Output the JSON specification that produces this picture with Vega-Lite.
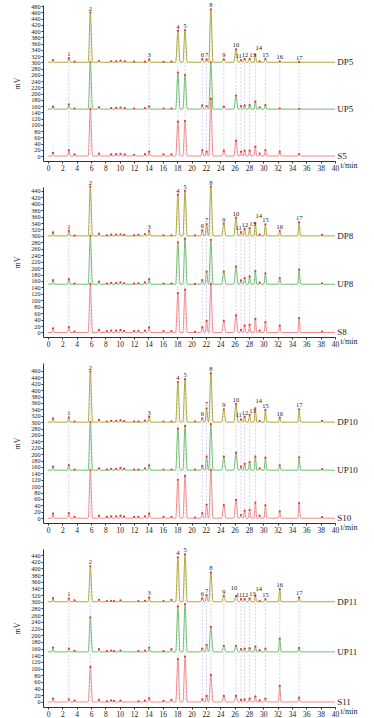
{
"$schema":"https://vega.github.io/schema/vega-lite/v6.json",
"autosize":{"type":"pad"},
"padding":{"left":13,"top":2,"right":2,"bottom":2},
"spacing":26,
"bounds":"flush",
"config":{"view":{"stroke":null},"axis":{"labelFont":"Liberation Serif","titleFont":"Liberation Serif","labelFontSize":7,"titleFontSize":8,"grid":false,"domainColor":"#333","tickColor":"#333","labelColor":"#222","titleColor":"#222","titleFontWeight":"normal","labelOverlap":false},"axisY":{"labelFontSize":6.2,"tickSize":2,"labelPadding":1,"titlePadding":9},"text":{"font":"Liberation Serif"}},
"datasets":{
"p1":[
{"t":0,"D":300,"U":150,"S":0},
{"t":0.55,"D":300,"U":150,"S":0},{"t":0.7,"D":307,"U":158,"S":10,"n":""},{"t":0.85,"D":300,"U":150,"S":0},
{"t":2.7,"D":300,"U":150,"S":0},{"t":2.9,"D":313,"U":165,"S":19,"n":"1"},{"t":3.1,"D":300,"U":150,"S":0},
{"t":3.55,"D":300,"U":150,"S":0},{"t":3.7,"D":302,"U":152,"S":5,"n":""},{"t":3.85,"D":300,"U":150,"S":0},
{"t":5.6,"D":300,"U":150,"S":0},{"t":5.9,"D":459,"U":300,"S":150,"n":"2"},{"t":6.2,"D":300,"U":150,"S":0},
{"t":6.95,"D":300,"U":150,"S":0},{"t":7.1,"D":304,"U":156,"S":8,"n":""},{"t":7.25,"D":300,"U":150,"S":0},
{"t":8.65,"D":300,"U":150,"S":0},{"t":8.8,"D":303,"U":153,"S":5,"n":""},{"t":8.95,"D":300,"U":150,"S":0},
{"t":9.35,"D":300,"U":150,"S":0},{"t":9.5,"D":303,"U":154,"S":6,"n":""},{"t":9.65,"D":300,"U":150,"S":0},
{"t":9.95,"D":300,"U":150,"S":0},{"t":10.1,"D":305,"U":155,"S":7,"n":""},{"t":10.25,"D":300,"U":150,"S":0},
{"t":10.55,"D":300,"U":150,"S":0},{"t":10.7,"D":303,"U":153,"S":5,"n":""},{"t":10.85,"D":300,"U":150,"S":0},
{"t":11.85,"D":300,"U":150,"S":0},{"t":12,"D":302,"U":152,"S":4,"n":""},{"t":12.15,"D":300,"U":150,"S":0},
{"t":13.35,"D":300,"U":150,"S":0},{"t":13.5,"D":302,"U":153,"S":6,"n":""},{"t":13.65,"D":300,"U":150,"S":0},
{"t":13.9,"D":300,"U":150,"S":0},{"t":14.1,"D":309,"U":159,"S":14,"n":"3"},{"t":14.3,"D":300,"U":150,"S":0},
{"t":15.95,"D":300,"U":150,"S":0},{"t":16.1,"D":301,"U":152,"S":5,"n":""},{"t":16.25,"D":300,"U":150,"S":0},
{"t":17.05,"D":300,"U":150,"S":0},{"t":17.2,"D":302,"U":152,"S":5,"n":""},{"t":17.35,"D":300,"U":150,"S":0},
{"t":17.8,"D":300,"U":150,"S":0},{"t":18.1,"D":401,"U":267,"S":110,"n":"4"},{"t":18.4,"D":300,"U":150,"S":0},
{"t":18.8,"D":300,"U":150,"S":0},{"t":19.1,"D":403,"U":259,"S":112,"n":"5"},{"t":19.4,"D":300,"U":150,"S":0},
{"t":21.28,"D":300,"U":150,"S":0},{"t":21.5,"D":311,"U":162,"S":19,"n":"6"},{"t":21.72,"D":300,"U":150,"S":0},
{"t":21.88,"D":300,"U":150,"S":0},{"t":22.1,"D":309,"U":160,"S":14,"n":"7"},{"t":22.35,"D":300,"U":150,"S":0},
{"t":22.4,"D":300,"U":150,"S":0},{"t":22.7,"D":469,"U":300,"S":183,"n":"8"},{"t":23,"D":300,"U":150,"S":0},
{"t":24.2,"D":300,"U":150,"S":0},{"t":24.5,"D":309,"U":158,"S":17,"n":"9"},{"t":24.8,"D":300,"U":150,"S":0},
{"t":25.9,"D":300,"U":150,"S":0},{"t":26.2,"D":341,"U":193,"S":49,"n":"10"},{"t":26.5,"D":300,"U":150,"S":0},
{"t":26.7,"D":300,"U":150,"S":0},{"t":26.9,"D":307,"U":160,"S":14,"n":"11"},{"t":27.1,"D":300,"U":150,"S":0},
{"t":27.2,"D":300,"U":150,"S":0},{"t":27.4,"D":311,"U":162,"S":17,"n":"12"},{"t":27.6,"D":300,"U":150,"S":0},
{"t":27.9,"D":300,"U":150,"S":0},{"t":28.1,"D":311,"U":163,"S":17,"n":"13"},{"t":28.3,"D":300,"U":150,"S":0},
{"t":28.7,"D":300,"U":150,"S":0},{"t":28.9,"D":324,"U":174,"S":30,"n":"14"},{"t":29.1,"D":300,"U":150,"S":0},
{"t":29.35,"D":300,"U":150,"S":0},{"t":29.5,"D":303,"U":156,"S":8,"n":""},{"t":29.65,"D":300,"U":150,"S":0},
{"t":30.1,"D":300,"U":150,"S":0},{"t":30.3,"D":311,"U":163,"S":19,"n":"15"},{"t":30.5,"D":300,"U":150,"S":0},
{"t":32.1,"D":300,"U":150,"S":0},{"t":32.3,"D":303,"U":152,"S":14,"n":"16"},{"t":32.5,"D":300,"U":150,"S":0},
{"t":34.8,"D":300,"U":150,"S":0},{"t":35,"D":301,"U":151,"S":6,"n":"17"},{"t":35.2,"D":300,"U":150,"S":0},
{"t":40,"D":300,"U":150,"S":0}
],
"p2":[
{"t":0,"D":300,"U":150,"S":0},
{"t":0.55,"D":300,"U":150,"S":0},{"t":0.7,"D":311,"U":163,"S":13,"n":""},{"t":0.85,"D":300,"U":150,"S":0},
{"t":2.7,"D":300,"U":150,"S":0},{"t":2.9,"D":316,"U":166,"S":17,"n":"1"},{"t":3.1,"D":300,"U":150,"S":0},
{"t":3.55,"D":300,"U":150,"S":0},{"t":3.7,"D":301,"U":152,"S":3,"n":""},{"t":3.85,"D":300,"U":150,"S":0},
{"t":5.6,"D":300,"U":150,"S":0},{"t":5.9,"D":453,"U":300,"S":150,"n":"2"},{"t":6.2,"D":300,"U":150,"S":0},
{"t":6.95,"D":300,"U":150,"S":0},{"t":7.1,"D":307,"U":158,"S":8,"n":""},{"t":7.25,"D":300,"U":150,"S":0},
{"t":8.05,"D":300,"U":150,"S":0},{"t":8.2,"D":302,"U":152,"S":4,"n":""},{"t":8.35,"D":300,"U":150,"S":0},
{"t":8.65,"D":300,"U":150,"S":0},{"t":8.8,"D":304,"U":154,"S":6,"n":""},{"t":8.95,"D":300,"U":150,"S":0},
{"t":9.35,"D":300,"U":150,"S":0},{"t":9.5,"D":304,"U":154,"S":6,"n":""},{"t":9.65,"D":300,"U":150,"S":0},
{"t":9.95,"D":300,"U":150,"S":0},{"t":10.1,"D":305,"U":156,"S":8,"n":""},{"t":10.25,"D":300,"U":150,"S":0},
{"t":10.45,"D":300,"U":150,"S":0},{"t":10.6,"D":303,"U":153,"S":5,"n":""},{"t":10.75,"D":300,"U":150,"S":0},
{"t":11.85,"D":300,"U":150,"S":0},{"t":12,"D":302,"U":152,"S":4,"n":""},{"t":12.15,"D":300,"U":150,"S":0},
{"t":12.45,"D":300,"U":150,"S":0},{"t":12.6,"D":303,"U":153,"S":5,"n":""},{"t":12.75,"D":300,"U":150,"S":0},
{"t":13.35,"D":300,"U":150,"S":0},{"t":13.5,"D":306,"U":156,"S":6,"n":""},{"t":13.65,"D":300,"U":150,"S":0},
{"t":13.9,"D":300,"U":150,"S":0},{"t":14.1,"D":316,"U":166,"S":16,"n":"3"},{"t":14.3,"D":300,"U":150,"S":0},
{"t":15.95,"D":300,"U":150,"S":0},{"t":16.1,"D":302,"U":152,"S":4,"n":""},{"t":16.25,"D":300,"U":150,"S":0},
{"t":17.05,"D":300,"U":150,"S":0},{"t":17.2,"D":302,"U":152,"S":4,"n":""},{"t":17.35,"D":300,"U":150,"S":0},
{"t":17.8,"D":300,"U":150,"S":0},{"t":18.1,"D":428,"U":280,"S":122,"n":"4"},{"t":18.4,"D":300,"U":150,"S":0},
{"t":18.8,"D":300,"U":150,"S":0},{"t":19.1,"D":440,"U":291,"S":133,"n":"5"},{"t":19.4,"D":300,"U":150,"S":0},
{"t":20.35,"D":300,"U":150,"S":0},{"t":20.5,"D":302,"U":151,"S":2,"n":""},{"t":20.65,"D":300,"U":150,"S":0},
{"t":21.28,"D":300,"U":150,"S":0},{"t":21.5,"D":317,"U":163,"S":16,"n":"6"},{"t":21.72,"D":300,"U":150,"S":0},
{"t":21.88,"D":300,"U":150,"S":0},{"t":22.1,"D":337,"U":189,"S":36,"n":"7"},{"t":22.35,"D":300,"U":150,"S":0},
{"t":22.4,"D":300,"U":150,"S":0},{"t":22.7,"D":453,"U":288,"S":150,"n":"8"},{"t":23,"D":300,"U":150,"S":0},
{"t":24.2,"D":300,"U":150,"S":0},{"t":24.5,"D":338,"U":189,"S":36,"n":"9"},{"t":24.8,"D":300,"U":150,"S":0},
{"t":25.9,"D":300,"U":150,"S":0},{"t":26.2,"D":357,"U":205,"S":53,"n":"10"},{"t":26.5,"D":300,"U":150,"S":0},
{"t":26.7,"D":300,"U":150,"S":0},{"t":26.9,"D":312,"U":162,"S":8,"n":"11"},{"t":27.1,"D":300,"U":150,"S":0},
{"t":27.2,"D":300,"U":150,"S":0},{"t":27.4,"D":322,"U":169,"S":21,"n":"12"},{"t":27.6,"D":300,"U":150,"S":0},
{"t":27.9,"D":300,"U":150,"S":0},{"t":28.1,"D":324,"U":174,"S":24,"n":"13"},{"t":28.3,"D":300,"U":150,"S":0},
{"t":28.7,"D":300,"U":150,"S":0},{"t":28.9,"D":340,"U":191,"S":42,"n":"14"},{"t":29.1,"D":300,"U":150,"S":0},
{"t":29.35,"D":300,"U":150,"S":0},{"t":29.5,"D":304,"U":155,"S":6,"n":""},{"t":29.65,"D":300,"U":150,"S":0},
{"t":30.1,"D":300,"U":150,"S":0},{"t":30.3,"D":336,"U":184,"S":32,"n":"15"},{"t":30.5,"D":300,"U":150,"S":0},
{"t":32.1,"D":300,"U":150,"S":0},{"t":32.3,"D":316,"U":169,"S":21,"n":"16"},{"t":32.5,"D":300,"U":150,"S":0},
{"t":34.8,"D":300,"U":150,"S":0},{"t":35,"D":343,"U":195,"S":45,"n":"17"},{"t":35.2,"D":300,"U":150,"S":0},
{"t":38.05,"D":300,"U":150,"S":0},{"t":38.2,"D":303,"U":153,"S":3,"n":""},{"t":38.35,"D":300,"U":150,"S":0},
{"t":40,"D":300,"U":150,"S":0}
],
"p3":[
{"t":0,"D":300,"U":150,"S":0},
{"t":0.55,"D":300,"U":150,"S":0},{"t":0.7,"D":312,"U":161,"S":14,"n":""},{"t":0.85,"D":300,"U":150,"S":0},
{"t":2.7,"D":300,"U":150,"S":0},{"t":2.9,"D":315,"U":166,"S":16,"n":"1"},{"t":3.1,"D":300,"U":150,"S":0},
{"t":3.55,"D":300,"U":150,"S":0},{"t":3.7,"D":302,"U":152,"S":4,"n":""},{"t":3.85,"D":300,"U":150,"S":0},
{"t":5.6,"D":300,"U":150,"S":0},{"t":5.9,"D":458,"U":300,"S":150,"n":"2"},{"t":6.2,"D":300,"U":150,"S":0},
{"t":6.95,"D":300,"U":150,"S":0},{"t":7.1,"D":307,"U":156,"S":8,"n":""},{"t":7.25,"D":300,"U":150,"S":0},
{"t":8.05,"D":300,"U":150,"S":0},{"t":8.2,"D":302,"U":152,"S":4,"n":""},{"t":8.35,"D":300,"U":150,"S":0},
{"t":8.65,"D":300,"U":150,"S":0},{"t":8.8,"D":304,"U":154,"S":6,"n":""},{"t":8.95,"D":300,"U":150,"S":0},
{"t":9.35,"D":300,"U":150,"S":0},{"t":9.5,"D":304,"U":154,"S":6,"n":""},{"t":9.65,"D":300,"U":150,"S":0},
{"t":9.95,"D":300,"U":150,"S":0},{"t":10.1,"D":306,"U":157,"S":8,"n":""},{"t":10.25,"D":300,"U":150,"S":0},
{"t":10.45,"D":300,"U":150,"S":0},{"t":10.6,"D":303,"U":154,"S":5,"n":""},{"t":10.75,"D":300,"U":150,"S":0},
{"t":11.85,"D":300,"U":150,"S":0},{"t":12,"D":302,"U":152,"S":4,"n":""},{"t":12.15,"D":300,"U":150,"S":0},
{"t":12.45,"D":300,"U":150,"S":0},{"t":12.6,"D":302,"U":152,"S":4,"n":""},{"t":12.75,"D":300,"U":150,"S":0},
{"t":13.35,"D":300,"U":150,"S":0},{"t":13.5,"D":305,"U":156,"S":6,"n":""},{"t":13.65,"D":300,"U":150,"S":0},
{"t":13.9,"D":300,"U":150,"S":0},{"t":14.1,"D":317,"U":165,"S":14,"n":"3"},{"t":14.3,"D":300,"U":150,"S":0},
{"t":15.95,"D":300,"U":150,"S":0},{"t":16.1,"D":302,"U":152,"S":4,"n":""},{"t":16.25,"D":300,"U":150,"S":0},
{"t":17.05,"D":300,"U":150,"S":0},{"t":17.2,"D":302,"U":152,"S":4,"n":""},{"t":17.35,"D":300,"U":150,"S":0},
{"t":17.8,"D":300,"U":150,"S":0},{"t":18.1,"D":425,"U":280,"S":120,"n":"4"},{"t":18.4,"D":300,"U":150,"S":0},
{"t":18.8,"D":300,"U":150,"S":0},{"t":19.1,"D":434,"U":288,"S":132,"n":"5"},{"t":19.4,"D":300,"U":150,"S":0},
{"t":20.35,"D":300,"U":150,"S":0},{"t":20.5,"D":302,"U":152,"S":2,"n":""},{"t":20.65,"D":300,"U":150,"S":0},
{"t":21.28,"D":300,"U":150,"S":0},{"t":21.5,"D":312,"U":163,"S":16,"n":"6"},{"t":21.72,"D":300,"U":150,"S":0},
{"t":21.88,"D":300,"U":150,"S":0},{"t":22.1,"D":343,"U":192,"S":42,"n":"7"},{"t":22.35,"D":300,"U":150,"S":0},
{"t":22.4,"D":300,"U":150,"S":0},{"t":22.7,"D":453,"U":294,"S":150,"n":"8"},{"t":23,"D":300,"U":150,"S":0},
{"t":24.2,"D":300,"U":150,"S":0},{"t":24.5,"D":340,"U":192,"S":41,"n":"9"},{"t":24.8,"D":300,"U":150,"S":0},
{"t":25.9,"D":300,"U":150,"S":0},{"t":26.2,"D":357,"U":205,"S":57,"n":"10"},{"t":26.5,"D":300,"U":150,"S":0},
{"t":26.7,"D":300,"U":150,"S":0},{"t":26.9,"D":309,"U":161,"S":10,"n":"11"},{"t":27.1,"D":300,"U":150,"S":0},
{"t":27.2,"D":300,"U":150,"S":0},{"t":27.4,"D":317,"U":170,"S":23,"n":"12"},{"t":27.6,"D":300,"U":150,"S":0},
{"t":27.9,"D":300,"U":150,"S":0},{"t":28.1,"D":323,"U":175,"S":26,"n":"13"},{"t":28.3,"D":300,"U":150,"S":0},
{"t":28.7,"D":300,"U":150,"S":0},{"t":28.9,"D":343,"U":192,"S":49,"n":"14"},{"t":29.1,"D":300,"U":150,"S":0},
{"t":29.35,"D":300,"U":150,"S":0},{"t":29.5,"D":304,"U":156,"S":8,"n":""},{"t":29.65,"D":300,"U":150,"S":0},
{"t":30.1,"D":300,"U":150,"S":0},{"t":30.3,"D":338,"U":189,"S":40,"n":"15"},{"t":30.5,"D":300,"U":150,"S":0},
{"t":32.1,"D":300,"U":150,"S":0},{"t":32.3,"D":314,"U":165,"S":21,"n":"16"},{"t":32.5,"D":300,"U":150,"S":0},
{"t":34.8,"D":300,"U":150,"S":0},{"t":35,"D":340,"U":190,"S":47,"n":"17"},{"t":35.2,"D":300,"U":150,"S":0},
{"t":38.05,"D":300,"U":150,"S":0},{"t":38.2,"D":304,"U":153,"S":3,"n":""},{"t":38.35,"D":300,"U":150,"S":0},
{"t":40,"D":300,"U":150,"S":0}
],
"p4":[
{"t":0,"D":300,"U":150,"S":0},
{"t":0.55,"D":300,"U":150,"S":0},{"t":0.7,"D":311,"U":163,"S":10,"n":""},{"t":0.85,"D":300,"U":150,"S":0},
{"t":2.7,"D":300,"U":150,"S":0},{"t":2.9,"D":310,"U":160,"S":8,"n":"1"},{"t":3.1,"D":300,"U":150,"S":0},
{"t":3.55,"D":300,"U":150,"S":0},{"t":3.7,"D":304,"U":153,"S":4,"n":""},{"t":3.85,"D":300,"U":150,"S":0},
{"t":5.6,"D":300,"U":150,"S":0},{"t":5.9,"D":406,"U":253,"S":105,"n":"2"},{"t":6.2,"D":300,"U":150,"S":0},
{"t":6.95,"D":300,"U":150,"S":0},{"t":7.1,"D":306,"U":158,"S":6,"n":""},{"t":7.25,"D":300,"U":150,"S":0},
{"t":8.05,"D":300,"U":150,"S":0},{"t":8.2,"D":302,"U":152,"S":2,"n":""},{"t":8.35,"D":300,"U":150,"S":0},
{"t":8.65,"D":300,"U":150,"S":0},{"t":8.8,"D":303,"U":154,"S":5,"n":""},{"t":8.95,"D":300,"U":150,"S":0},
{"t":9.05,"D":300,"U":150,"S":0},{"t":9.2,"D":302,"U":152,"S":3,"n":""},{"t":9.35,"D":300,"U":150,"S":0},
{"t":9.95,"D":300,"U":150,"S":0},{"t":10.1,"D":304,"U":154,"S":4,"n":""},{"t":10.25,"D":300,"U":150,"S":0},
{"t":12.45,"D":300,"U":150,"S":0},{"t":12.6,"D":302,"U":152,"S":2,"n":""},{"t":12.75,"D":300,"U":150,"S":0},
{"t":13.35,"D":300,"U":150,"S":0},{"t":13.5,"D":303,"U":154,"S":4,"n":""},{"t":13.65,"D":300,"U":150,"S":0},
{"t":13.9,"D":300,"U":150,"S":0},{"t":14.1,"D":313,"U":163,"S":11,"n":"3"},{"t":14.3,"D":300,"U":150,"S":0},
{"t":15.95,"D":300,"U":150,"S":0},{"t":16.1,"D":302,"U":152,"S":3,"n":""},{"t":16.25,"D":300,"U":150,"S":0},
{"t":17.05,"D":300,"U":150,"S":0},{"t":17.2,"D":306,"U":158,"S":6,"n":""},{"t":17.35,"D":300,"U":150,"S":0},
{"t":17.8,"D":300,"U":150,"S":0},{"t":18.1,"D":433,"U":286,"S":128,"n":"4"},{"t":18.4,"D":300,"U":150,"S":0},
{"t":18.8,"D":300,"U":150,"S":0},{"t":19.1,"D":442,"U":293,"S":136,"n":"5"},{"t":19.4,"D":300,"U":150,"S":0},
{"t":21.28,"D":300,"U":150,"S":0},{"t":21.5,"D":310,"U":160,"S":8,"n":"6"},{"t":21.72,"D":300,"U":150,"S":0},
{"t":21.88,"D":300,"U":150,"S":0},{"t":22.1,"D":320,"U":171,"S":18,"n":"7"},{"t":22.35,"D":300,"U":150,"S":0},
{"t":22.4,"D":300,"U":150,"S":0},{"t":22.7,"D":388,"U":225,"S":81,"n":"8"},{"t":23,"D":300,"U":150,"S":0},
{"t":24.2,"D":300,"U":150,"S":0},{"t":24.5,"D":318,"U":168,"S":18,"n":"9"},{"t":24.8,"D":300,"U":150,"S":0},
{"t":25.9,"D":300,"U":150,"S":0},{"t":26.2,"D":318,"U":168,"S":18,"n":"10"},{"t":26.5,"D":300,"U":150,"S":0},
{"t":26.7,"D":300,"U":150,"S":0},{"t":26.9,"D":308,"U":158,"S":6,"n":"11"},{"t":27.1,"D":300,"U":150,"S":0},
{"t":27.2,"D":300,"U":150,"S":0},{"t":27.4,"D":308,"U":160,"S":8,"n":"12"},{"t":27.6,"D":300,"U":150,"S":0},
{"t":27.9,"D":300,"U":150,"S":0},{"t":28.1,"D":310,"U":161,"S":10,"n":"13"},{"t":28.3,"D":300,"U":150,"S":0},
{"t":28.7,"D":300,"U":150,"S":0},{"t":28.9,"D":318,"U":166,"S":16,"n":"14"},{"t":29.1,"D":300,"U":150,"S":0},
{"t":29.35,"D":300,"U":150,"S":0},{"t":29.5,"D":302,"U":155,"S":5,"n":""},{"t":29.65,"D":300,"U":150,"S":0},
{"t":30.1,"D":300,"U":150,"S":0},{"t":30.3,"D":308,"U":160,"S":10,"n":"15"},{"t":30.5,"D":300,"U":150,"S":0},
{"t":32.1,"D":300,"U":150,"S":0},{"t":32.3,"D":338,"U":190,"S":48,"n":"16"},{"t":32.5,"D":300,"U":150,"S":0},
{"t":34.8,"D":300,"U":150,"S":0},{"t":35,"D":313,"U":162,"S":13,"n":"17"},{"t":35.2,"D":300,"U":150,"S":0},
{"t":40,"D":300,"U":150,"S":0}
]
},
"vconcat":[
{"width":292,"height":156,"data":{"name":"p1"},
"encoding":{"x":{"field":"t","type":"quantitative","scale":{"domain":[-0.7,40],"nice":false,"zero":false},"axis":{"values":[0,2,4,6,8,10,12,14,16,18,20,22,24,26,28,30,32,34,36,38,40],"format":"d","title":"t/min","titleX":297,"titleY":4.5,"titleAlign":"left","titleBaseline":"middle","titleAngle":0,"tickSize":2,"labelPadding":1,"labelFontSize":7.5,"labelFlush":false}}},
"layer":[
{"transform":[{"filter":"isValid(datum.n) && datum.n != ''"}],"mark":{"type":"rule","color":"#c9c7e3","strokeWidth":0.8,"strokeDash":[2,1.5]},"encoding":{"y":{"field":"D","type":"quantitative","scale":{"domain":[-16,483.2],"nice":false,"zero":false},"axis":{"values":[0,20,40,60,80,100,120,140,160,180,200,220,240,260,280,300,320,340,360,380,400,420,440,460,480],"format":"d","title":"mV"}},"y2":{"datum":0}}},
{"mark":{"type":"line","color":"#f08c8c","interpolate":"monotone","strokeWidth":1},"encoding":{"y":{"field":"S","type":"quantitative","scale":{"domain":[-16,483.2],"nice":false,"zero":false},"axis":{"values":[0,20,40,60,80,100,120,140,160,180,200,220,240,260,280,300,320,340,360,380,400,420,440,460,480],"format":"d","title":"mV"}}}},
{"mark":{"type":"line","color":"#72bd72","interpolate":"monotone","strokeWidth":1},"encoding":{"y":{"field":"U","type":"quantitative","scale":{"domain":[-16,483.2],"nice":false,"zero":false},"axis":{"values":[0,20,40,60,80,100,120,140,160,180,200,220,240,260,280,300,320,340,360,380,400,420,440,460,480],"format":"d","title":"mV"}}}},
{"mark":{"type":"line","color":"#aea83e","interpolate":"monotone","strokeWidth":1},"encoding":{"y":{"field":"D","type":"quantitative","scale":{"domain":[-16,483.2],"nice":false,"zero":false},"axis":{"values":[0,20,40,60,80,100,120,140,160,180,200,220,240,260,280,300,320,340,360,380,400,420,440,460,480],"format":"d","title":"mV"}}}},
{"transform":[{"filter":"isValid(datum.n)"},{"fold":["S","U","D"]}],"mark":{"type":"circle","color":"#e53a3a","size":5,"opacity":1},"encoding":{"y":{"field":"value","type":"quantitative","scale":{"domain":[-16,483.2],"nice":false,"zero":false},"axis":{"values":[0,20,40,60,80,100,120,140,160,180,200,220,240,260,280,300,320,340,360,380,400,420,440,460,480],"format":"d","title":"mV"}}}},
{"transform":[{"filter":"isValid(datum.n) && datum.n != ''"}],"mark":{"type":"text","fontSize":6.5,"baseline":"bottom","color":"#222","dx":{"expr":"datum.n=='11'?-2.5:datum.n=='12'?0.5:datum.n=='13'?3:datum.n=='14'?3.5:0"},"dy":{"expr":"datum.n=='14'?-4:-1"}},"encoding":{"y":{"field":"D","type":"quantitative","scale":{"domain":[-16,483.2],"nice":false,"zero":false},"axis":{"values":[0,20,40,60,80,100,120,140,160,180,200,220,240,260,280,300,320,340,360,380,400,420,440,460,480],"format":"d","title":"mV"}},"text":{"field":"n","type":"nominal"}}},
{"data":{"values":[{"lab":"DP5","t":40.3,"v":300},{"lab":"UP5","t":40.3,"v":150},{"lab":"S5","t":40.3,"v":0}]},"mark":{"type":"text","fontSize":9,"align":"left","baseline":"middle","color":"#222"},"encoding":{"y":{"field":"v","type":"quantitative","scale":{"domain":[-16,483.2],"nice":false,"zero":false},"axis":{"values":[0,20,40,60,80,100,120,140,160,180,200,220,240,260,280,300,320,340,360,380,400,420,440,460,480],"format":"d","title":"mV"}},"text":{"field":"lab","type":"nominal"}}}
]},
{"width":292,"height":150,"data":{"name":"p2"},
"encoding":{"x":{"field":"t","type":"quantitative","scale":{"domain":[-0.7,40],"nice":false,"zero":false},"axis":{"values":[0,2,4,6,8,10,12,14,16,18,20,22,24,26,28,30,32,34,36,38,40],"format":"d","title":"t/min","titleX":297,"titleY":4.5,"titleAlign":"left","titleBaseline":"middle","titleAngle":0,"tickSize":2,"labelPadding":1,"labelFontSize":7.5,"labelFlush":false}}},
"layer":[
{"transform":[{"filter":"isValid(datum.n) && datum.n != ''"}],"mark":{"type":"rule","color":"#c9c7e3","strokeWidth":0.8,"strokeDash":[2,1.5]},"encoding":{"y":{"field":"D","type":"quantitative","scale":{"domain":[-14,452],"nice":false,"zero":false},"axis":{"values":[0,20,40,60,80,100,120,140,160,180,200,220,240,260,280,300,320,340,360,380,400,420,440],"format":"d","title":"mV"}},"y2":{"datum":0}}},
{"mark":{"type":"line","color":"#f08c8c","interpolate":"monotone","strokeWidth":1},"encoding":{"y":{"field":"S","type":"quantitative","scale":{"domain":[-14,452],"nice":false,"zero":false},"axis":{"values":[0,20,40,60,80,100,120,140,160,180,200,220,240,260,280,300,320,340,360,380,400,420,440],"format":"d","title":"mV"}}}},
{"mark":{"type":"line","color":"#72bd72","interpolate":"monotone","strokeWidth":1},"encoding":{"y":{"field":"U","type":"quantitative","scale":{"domain":[-14,452],"nice":false,"zero":false},"axis":{"values":[0,20,40,60,80,100,120,140,160,180,200,220,240,260,280,300,320,340,360,380,400,420,440],"format":"d","title":"mV"}}}},
{"mark":{"type":"line","color":"#aea83e","interpolate":"monotone","strokeWidth":1},"encoding":{"y":{"field":"D","type":"quantitative","scale":{"domain":[-14,452],"nice":false,"zero":false},"axis":{"values":[0,20,40,60,80,100,120,140,160,180,200,220,240,260,280,300,320,340,360,380,400,420,440],"format":"d","title":"mV"}}}},
{"transform":[{"filter":"isValid(datum.n)"},{"fold":["S","U","D"]}],"mark":{"type":"circle","color":"#e53a3a","size":5,"opacity":1},"encoding":{"y":{"field":"value","type":"quantitative","scale":{"domain":[-14,452],"nice":false,"zero":false},"axis":{"values":[0,20,40,60,80,100,120,140,160,180,200,220,240,260,280,300,320,340,360,380,400,420,440],"format":"d","title":"mV"}}}},
{"transform":[{"filter":"isValid(datum.n) && datum.n != ''"}],"mark":{"type":"text","fontSize":6.5,"baseline":"bottom","color":"#222","dx":{"expr":"datum.n=='11'?-2.5:datum.n=='12'?0.5:datum.n=='13'?3:datum.n=='14'?3.5:0"},"dy":{"expr":"datum.n=='14'?-4:-1"}},"encoding":{"y":{"field":"D","type":"quantitative","scale":{"domain":[-14,452],"nice":false,"zero":false},"axis":{"values":[0,20,40,60,80,100,120,140,160,180,200,220,240,260,280,300,320,340,360,380,400,420,440],"format":"d","title":"mV"}},"text":{"field":"n","type":"nominal"}}},
{"data":{"values":[{"lab":"DP8","t":40.3,"v":300},{"lab":"UP8","t":40.3,"v":150},{"lab":"S8","t":40.3,"v":0}]},"mark":{"type":"text","fontSize":9,"align":"left","baseline":"middle","color":"#222"},"encoding":{"y":{"field":"v","type":"quantitative","scale":{"domain":[-14,452],"nice":false,"zero":false},"axis":{"values":[0,20,40,60,80,100,120,140,160,180,200,220,240,260,280,300,320,340,360,380,400,420,440],"format":"d","title":"mV"}},"text":{"field":"lab","type":"nominal"}}}
]},
{"width":292,"height":160,"data":{"name":"p3"},
"encoding":{"x":{"field":"t","type":"quantitative","scale":{"domain":[-0.7,40],"nice":false,"zero":false},"axis":{"values":[0,2,4,6,8,10,12,14,16,18,20,22,24,26,28,30,32,34,36,38,40],"format":"d","title":"t/min","titleX":297,"titleY":4.5,"titleAlign":"left","titleBaseline":"middle","titleAngle":0,"tickSize":2,"labelPadding":1,"labelFontSize":7.5,"labelFlush":false}}},
"layer":[
{"transform":[{"filter":"isValid(datum.n) && datum.n != ''"}],"mark":{"type":"rule","color":"#c9c7e3","strokeWidth":0.8,"strokeDash":[2,1.5]},"encoding":{"y":{"field":"D","type":"quantitative","scale":{"domain":[-15,484.7],"nice":false,"zero":false},"axis":{"values":[0,20,40,60,80,100,120,140,160,180,200,220,240,260,280,300,320,340,360,380,400,420,440,460],"format":"d","title":"mV"}},"y2":{"datum":0}}},
{"mark":{"type":"line","color":"#f08c8c","interpolate":"monotone","strokeWidth":1},"encoding":{"y":{"field":"S","type":"quantitative","scale":{"domain":[-15,484.7],"nice":false,"zero":false},"axis":{"values":[0,20,40,60,80,100,120,140,160,180,200,220,240,260,280,300,320,340,360,380,400,420,440,460],"format":"d","title":"mV"}}}},
{"mark":{"type":"line","color":"#72bd72","interpolate":"monotone","strokeWidth":1},"encoding":{"y":{"field":"U","type":"quantitative","scale":{"domain":[-15,484.7],"nice":false,"zero":false},"axis":{"values":[0,20,40,60,80,100,120,140,160,180,200,220,240,260,280,300,320,340,360,380,400,420,440,460],"format":"d","title":"mV"}}}},
{"mark":{"type":"line","color":"#aea83e","interpolate":"monotone","strokeWidth":1},"encoding":{"y":{"field":"D","type":"quantitative","scale":{"domain":[-15,484.7],"nice":false,"zero":false},"axis":{"values":[0,20,40,60,80,100,120,140,160,180,200,220,240,260,280,300,320,340,360,380,400,420,440,460],"format":"d","title":"mV"}}}},
{"transform":[{"filter":"isValid(datum.n)"},{"fold":["S","U","D"]}],"mark":{"type":"circle","color":"#e53a3a","size":5,"opacity":1},"encoding":{"y":{"field":"value","type":"quantitative","scale":{"domain":[-15,484.7],"nice":false,"zero":false},"axis":{"values":[0,20,40,60,80,100,120,140,160,180,200,220,240,260,280,300,320,340,360,380,400,420,440,460],"format":"d","title":"mV"}}}},
{"transform":[{"filter":"isValid(datum.n) && datum.n != ''"}],"mark":{"type":"text","fontSize":6.5,"baseline":"bottom","color":"#222","dx":{"expr":"datum.n=='11'?-2.5:datum.n=='12'?0.5:datum.n=='13'?3:datum.n=='14'?3.5:0"},"dy":{"expr":"datum.n=='14'?-4:-1"}},"encoding":{"y":{"field":"D","type":"quantitative","scale":{"domain":[-15,484.7],"nice":false,"zero":false},"axis":{"values":[0,20,40,60,80,100,120,140,160,180,200,220,240,260,280,300,320,340,360,380,400,420,440,460],"format":"d","title":"mV"}},"text":{"field":"n","type":"nominal"}}},
{"data":{"values":[{"lab":"DP10","t":40.3,"v":300},{"lab":"UP10","t":40.3,"v":150},{"lab":"S10","t":40.3,"v":0}]},"mark":{"type":"text","fontSize":9,"align":"left","baseline":"middle","color":"#222"},"encoding":{"y":{"field":"v","type":"quantitative","scale":{"domain":[-15,484.7],"nice":false,"zero":false},"axis":{"values":[0,20,40,60,80,100,120,140,160,180,200,220,240,260,280,300,320,340,360,380,400,420,440,460],"format":"d","title":"mV"}},"text":{"field":"lab","type":"nominal"}}}
]},
{"width":292,"height":158,"data":{"name":"p4"},
"encoding":{"x":{"field":"t","type":"quantitative","scale":{"domain":[-0.7,40],"nice":false,"zero":false},"axis":{"values":[0,2,4,6,8,10,12,14,16,18,20,22,24,26,28,30,32,34,36,38,40],"format":"d","title":"t/min","titleX":297,"titleY":4.5,"titleAlign":"left","titleBaseline":"middle","titleAngle":0,"tickSize":2,"labelPadding":1,"labelFontSize":7.5,"labelFlush":false}}},
"layer":[
{"transform":[{"filter":"isValid(datum.n) && datum.n != ''"}],"mark":{"type":"rule","color":"#c9c7e3","strokeWidth":0.8,"strokeDash":[2,1.5]},"encoding":{"y":{"field":"D","type":"quantitative","scale":{"domain":[-15,458],"nice":false,"zero":false},"axis":{"values":[0,20,40,60,80,100,120,140,160,180,200,220,240,260,280,300,320,340,360,380,400,420,440],"format":"d","title":"mV"}},"y2":{"datum":0}}},
{"mark":{"type":"line","color":"#f08c8c","interpolate":"monotone","strokeWidth":1},"encoding":{"y":{"field":"S","type":"quantitative","scale":{"domain":[-15,458],"nice":false,"zero":false},"axis":{"values":[0,20,40,60,80,100,120,140,160,180,200,220,240,260,280,300,320,340,360,380,400,420,440],"format":"d","title":"mV"}}}},
{"mark":{"type":"line","color":"#72bd72","interpolate":"monotone","strokeWidth":1},"encoding":{"y":{"field":"U","type":"quantitative","scale":{"domain":[-15,458],"nice":false,"zero":false},"axis":{"values":[0,20,40,60,80,100,120,140,160,180,200,220,240,260,280,300,320,340,360,380,400,420,440],"format":"d","title":"mV"}}}},
{"mark":{"type":"line","color":"#aea83e","interpolate":"monotone","strokeWidth":1},"encoding":{"y":{"field":"D","type":"quantitative","scale":{"domain":[-15,458],"nice":false,"zero":false},"axis":{"values":[0,20,40,60,80,100,120,140,160,180,200,220,240,260,280,300,320,340,360,380,400,420,440],"format":"d","title":"mV"}}}},
{"transform":[{"filter":"isValid(datum.n)"},{"fold":["S","U","D"]}],"mark":{"type":"circle","color":"#e53a3a","size":5,"opacity":1},"encoding":{"y":{"field":"value","type":"quantitative","scale":{"domain":[-15,458],"nice":false,"zero":false},"axis":{"values":[0,20,40,60,80,100,120,140,160,180,200,220,240,260,280,300,320,340,360,380,400,420,440],"format":"d","title":"mV"}}}},
{"transform":[{"filter":"isValid(datum.n) && datum.n != ''"}],"mark":{"type":"text","fontSize":6.5,"baseline":"bottom","color":"#222","dx":{"expr":"datum.n=='10'?-2:datum.n=='11'?-2:datum.n=='12'?0.5:datum.n=='13'?3:datum.n=='14'?3.5:0"},"dy":{"expr":"datum.n=='14'?-4:datum.n=='10'?-5:-1"}},"encoding":{"y":{"field":"D","type":"quantitative","scale":{"domain":[-15,458],"nice":false,"zero":false},"axis":{"values":[0,20,40,60,80,100,120,140,160,180,200,220,240,260,280,300,320,340,360,380,400,420,440],"format":"d","title":"mV"}},"text":{"field":"n","type":"nominal"}}},
{"data":{"values":[{"lab":"DP11","t":40.3,"v":300},{"lab":"UP11","t":40.3,"v":150},{"lab":"S11","t":40.3,"v":0}]},"mark":{"type":"text","fontSize":9,"align":"left","baseline":"middle","color":"#222"},"encoding":{"y":{"field":"v","type":"quantitative","scale":{"domain":[-15,458],"nice":false,"zero":false},"axis":{"values":[0,20,40,60,80,100,120,140,160,180,200,220,240,260,280,300,320,340,360,380,400,420,440],"format":"d","title":"mV"}},"text":{"field":"lab","type":"nominal"}}}
]}
]
}
